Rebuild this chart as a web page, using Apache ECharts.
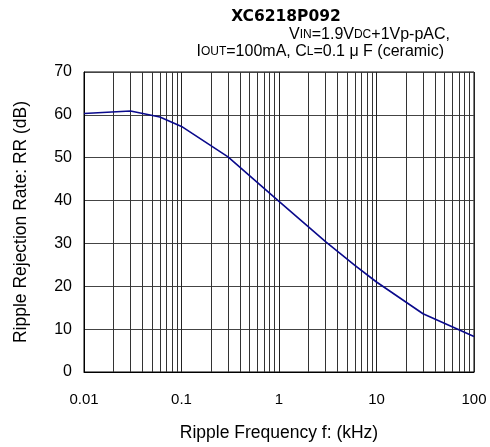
<!DOCTYPE html>
<html>
<head>
<meta charset="utf-8">
<script src="https://cdn.jsdelivr.net/npm/echarts@6/dist/echarts.min.js"></script>
<style>
html,body{margin:0;padding:0;background:#fff;}
#chart{width:490px;height:447px;}
</style>
</head>
<body>
<div id="chart"></div>
<script>
// Data
const freqKHz = [0.01, 0.03, 0.06, 0.1, 0.3, 1, 3, 6, 10, 30, 100];
const rrDB    = [60.3, 60.9, 59.5, 57.3, 50.2, 39.8, 30.4, 24.9, 21.0, 13.6, 8.3];
const xMajorTicks = [0.01, 0.1, 1, 10, 100];
const xMinorGrid = [];
[0.01, 0.1, 1, 10].forEach(function (d) {
  for (let k = 2; k <= 9; k++) xMinorGrid.push(+(d * k).toPrecision(3));
});
const yTicks = [0, 10, 20, 30, 40, 50, 60, 70];

const chart = echarts.init(document.getElementById('chart'), null, {renderer: 'canvas'});
const font = 'Liberation Sans, Arial, sans-serif';
const option = {
  backgroundColor: '#fff',
  animation: false,
  title: [
    {text: 'XC6218P092', left: 281, top: 4, textAlign: 'center',
     textStyle: {fontFamily: 'DejaVu Sans', fontWeight: 'bold', fontSize: 15.5, color: '#000'}},
    {text: '{m|V}{s|IN}{m|=1.9V}{s|DC}{m|+1Vp-pAC,}', right: 35, top: 22,
     textStyle: {fontWeight: 'normal', rich: {
       m: {fontFamily: font, fontSize: 16, fontWeight: 'normal', color: '#000'},
       s: {fontFamily: font, fontSize: 12, fontWeight: 'normal', color: '#000'}
     }}},
    {text: '{m|I}{s|OUT}{m|=100mA, C}{s|L}{m|=0.1 μ F (ceramic)}', right: 41, top: 39,
     textStyle: {fontWeight: 'normal', rich: {
       m: {fontFamily: font, fontSize: 16, fontWeight: 'normal', color: '#000'},
       s: {fontFamily: font, fontSize: 12, fontWeight: 'normal', color: '#000'}
     }}}
  ],
  grid: {left: 84, top: 72, width: 390, height: 303, show: true, borderColor: '#000', borderWidth: 1},
  xAxis: {
    type: 'log', logBase: 10, min: 0.01, max: 100,
    name: 'Ripple Frequency f: (kHz)', nameLocation: 'middle', nameGap: 52,
    nameTextStyle: {fontFamily: font, fontSize: 17.5, color: '#000'},
    axisLine: {show: true, lineStyle: {color: '#000'}},
    axisTick: {show: false},
    axisLabel: {fontFamily: font, fontSize: 15, color: '#000', margin: 20,
      formatter: function (v) { return String(+v.toPrecision(3)); }},
    splitLine: {show: true, lineStyle: {color: '#222', width: 1}}
  },
  yAxis: {
    type: 'value', min: 0, max: 70, interval: 10,
    name: 'Ripple Rejection Rate: RR (dB)', nameLocation: 'middle', nameGap: 54,
    nameTextStyle: {fontFamily: font, fontSize: 17.5, color: '#000'},
    axisLine: {show: true, lineStyle: {color: '#000'}},
    axisTick: {show: false},
    axisLabel: {fontFamily: font, fontSize: 16, color: '#000', margin: 12},
    splitLine: {show: true, lineStyle: {color: '#444', width: 1}}
  },
  series: [
    {
      type: 'line', data: [], silent: true,
      markLine: {
        silent: true, symbol: ['none', 'none'], animation: false,
        label: {show: false},
        lineStyle: {color: '#333', width: 1, type: 'solid'},
        data: xMinorGrid.map(function (v) { return {xAxis: v}; })
      }
    },
    {
      type: 'line',
      data: freqKHz.map(function (f, i) { return [f, rrDB[i]]; }),
      showSymbol: false,
      lineStyle: {color: '#0a0a8c', width: 1.6},
      z: 5
    }
  ]
};
chart.setOption(option);
</script>
</body>
</html>
